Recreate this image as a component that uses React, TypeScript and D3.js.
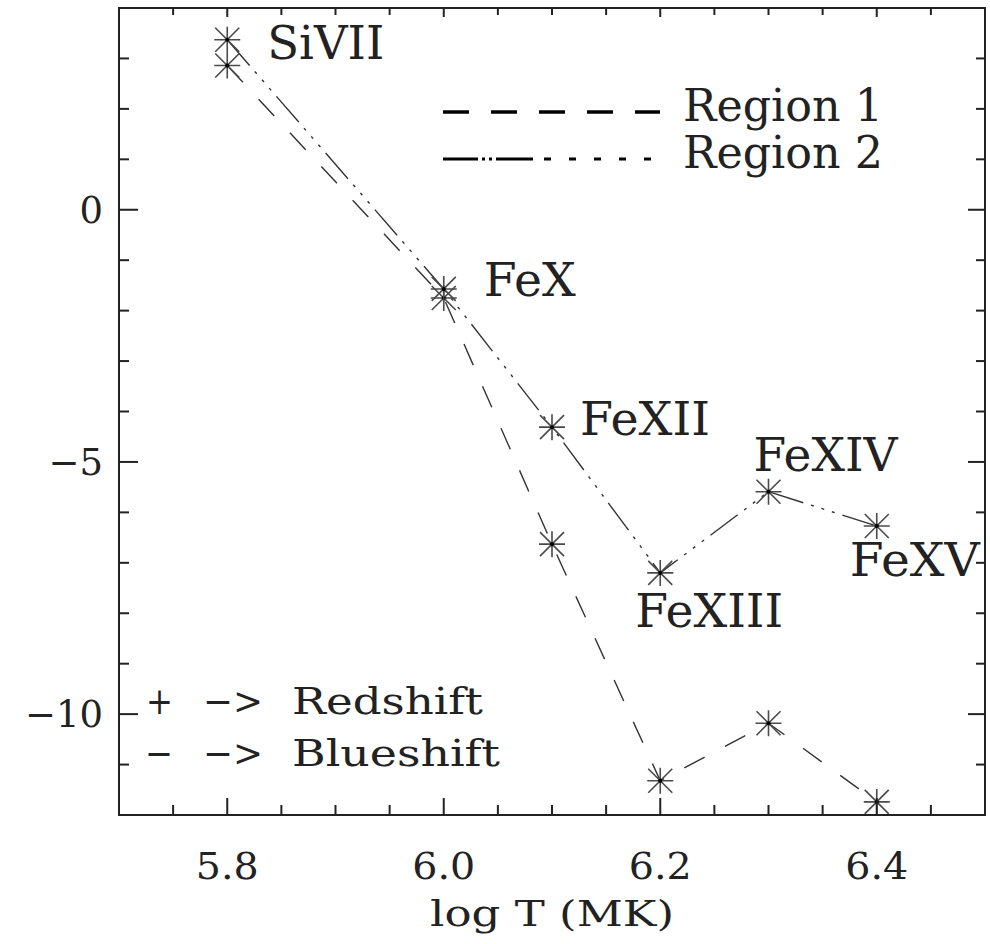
import React from "react";
import * as d3 from "d3";

// Temperatures (log T) and ion labels of the lines
const logT = [5.8, 6.0, 6.1, 6.2, 6.3, 6.4];
const ions = ["SiVII", "FeX", "FeXII", "FeXIII", "FeXIV", "FeXV"];

// Doppler shifts per region
const region1 = [2.86, -1.75, -6.63, -11.32, -10.18, -11.74];
const region2 = [3.37, -1.57, -4.31, -7.2, -5.59, -6.27];

// Axis ticks
const xMajor = [5.8, 6.0, 6.2, 6.4];
const xLabels = ["5.8", "6.0", "6.2", "6.4"];
const yMajor = [0, -5, -10];
const yLabels = ["0", "\u22125", "\u221210"];

const W = 990;
const H = 944;
const L = 119, R = 985, T = 8, B = 815;
const FONT = "'DejaVu Serif', serif";
const INK = "#222";

// label placement relative to its point: [dx, dy, width]
const labelPlace: [number, number, number][] = [
  [40, 19, 117],
  [40, 7, 92],
  [28, 8, 130],
  [-25, 54, 148],
  [-15, -21, 144],
  [-27, 50, 130],
];

export default function App() {
  const x = d3.scaleLinear().domain([5.7, 6.5]).range([L, R]);
  const y = d3.scaleLinear().domain([-12, 4]).range([B, T]);

  const line = d3
    .line<number>()
    .x((_, i) => x(logT[i]))
    .y((d) => y(d));

  const xMinor = d3.range(5.75, 6.5, 0.05).map((v) => +v.toFixed(2));
  const yMinor = d3.range(-11, 4, 1);

  const star = "M-13,0L13,0M0,-13L0,13M-12,-12L12,12M-12,12L12,-12";

  const isMajorX = (v: number) => xMajor.some((m) => Math.abs(m - v) < 1e-6);
  const isMajorY = (v: number) => yMajor.includes(v);

  return (
    <svg
      width={W}
      height={H}
      style={{ position: "absolute", left: 0, top: 0, background: "#fff" }}
    >
      <rect x={0} y={0} width={W} height={H} fill="#fff" />

      {/* data lines */}
      <path
        d={line(region1) || ""}
        fill="none"
        stroke="#333"
        strokeWidth={1.4}
        strokeDasharray="23,23"
      />
      <path
        d={line(region2) || ""}
        fill="none"
        stroke="#333"
        strokeWidth={1.4}
        strokeDasharray="34,8,3,8,3,8,3,8"
      />

      {/* markers */}
      {[region1, region2].map((series, s) =>
        series.map((v, i) => (
          <g key={`m${s}-${i}`} transform={`translate(${x(logT[i])},${y(v)})`}>
            <path d={star} stroke="#4a4a4a" strokeWidth={1.6} fill="none" />
            <circle r={2} fill="#000" />
          </g>
        ))
      )}

      {/* ion labels */}
      {ions.map((name, i) => {
        const [dx, dy, w] = labelPlace[i];
        return (
          <text
            key={name}
            x={x(logT[i]) + dx}
            y={y(region2[i]) + dy}
            fontFamily={FONT}
            fontSize={46}
            fill={INK}
            textLength={w}
            lengthAdjust="spacingAndGlyphs"
          >
            {name}
          </text>
        );
      })}

      {/* legend: line styles */}
      <line x1={443} x2={660} y1={112} y2={112} stroke="#000" strokeWidth={3.5} strokeDasharray="26,22" />
      <line
        x1={443}
        x2={660}
        y1={159}
        y2={159}
        stroke="#000"
        strokeWidth={3.2}
        strokeDasharray="35,4,3,4,3,4,37,11,7,18,7,18,7,18,7,18,7,20"
      />
      <text x={683} y={121} fontFamily={FONT} fontSize={44} fill={INK} textLength={200} lengthAdjust="spacingAndGlyphs">
        Region 1
      </text>
      <text x={683} y={168} fontFamily={FONT} fontSize={44} fill={INK} textLength={200} lengthAdjust="spacingAndGlyphs">
        Region 2
      </text>

      {/* legend: sign convention */}
      <g fontFamily={FONT} fontSize={37} fill={INK}>
        <text x={146} y={714} textLength={27} lengthAdjust="spacingAndGlyphs">+</text>
        <text x={203} y={714} textLength={60} lengthAdjust="spacingAndGlyphs">{"\u2212>"}</text>
        <text x={292} y={714} textLength={191} lengthAdjust="spacingAndGlyphs">Redshift</text>
        <text x={145} y={766} textLength={28} lengthAdjust="spacingAndGlyphs">{"\u2212"}</text>
        <text x={203} y={766} textLength={60} lengthAdjust="spacingAndGlyphs">{"\u2212>"}</text>
        <text x={292} y={766} textLength={208} lengthAdjust="spacingAndGlyphs">Blueshift</text>
      </g>

      {/* ticks */}
      <g stroke="#222" strokeWidth={2}>
        {xMinor.map((v) => {
          const len = isMajorX(v) ? 17 : 10;
          const lenTop = isMajorX(v) ? 9 : 7;
          return (
            <g key={`xt${v}`}>
              <line x1={x(v)} x2={x(v)} y1={B} y2={B - len} />
              <line x1={x(v)} x2={x(v)} y1={T} y2={T + lenTop} />
            </g>
          );
        })}
        {yMinor.map((v) => {
          const len = isMajorY(v) ? 19 : 10;
          const lenR = isMajorY(v) ? 17 : 9;
          return (
            <g key={`yt${v}`}>
              <line x1={L} x2={L + len} y1={y(v)} y2={y(v)} />
              <line x1={R} x2={R - lenR} y1={y(v)} y2={y(v)} />
            </g>
          );
        })}
      </g>

      {/* frame */}
      <rect x={L} y={T} width={R - L} height={B - T} fill="none" stroke="#222" strokeWidth={2} />

      {/* tick labels */}
      <g fontFamily={FONT} fontSize={37} fill={INK}>
        {xMajor.map((v, i) => (
          <text key={`xl${v}`} x={x(v)} y={879} textAnchor="middle" textLength={63} lengthAdjust="spacingAndGlyphs">
            {xLabels[i]}
          </text>
        ))}
        {yMajor.map((v, i) => (
          <text key={`yl${v}`} x={103} y={y(v) + 13} textAnchor="end">
            {yLabels[i]}
          </text>
        ))}
      </g>

      {/* axis title */}
      <text
        x={(L + R) / 2}
        y={926}
        textAnchor="middle"
        fontFamily={FONT}
        fontSize={35}
        fill={INK}
        textLength={244}
        lengthAdjust="spacingAndGlyphs"
      >
        log T (MK)
      </text>
    </svg>
  );
}
